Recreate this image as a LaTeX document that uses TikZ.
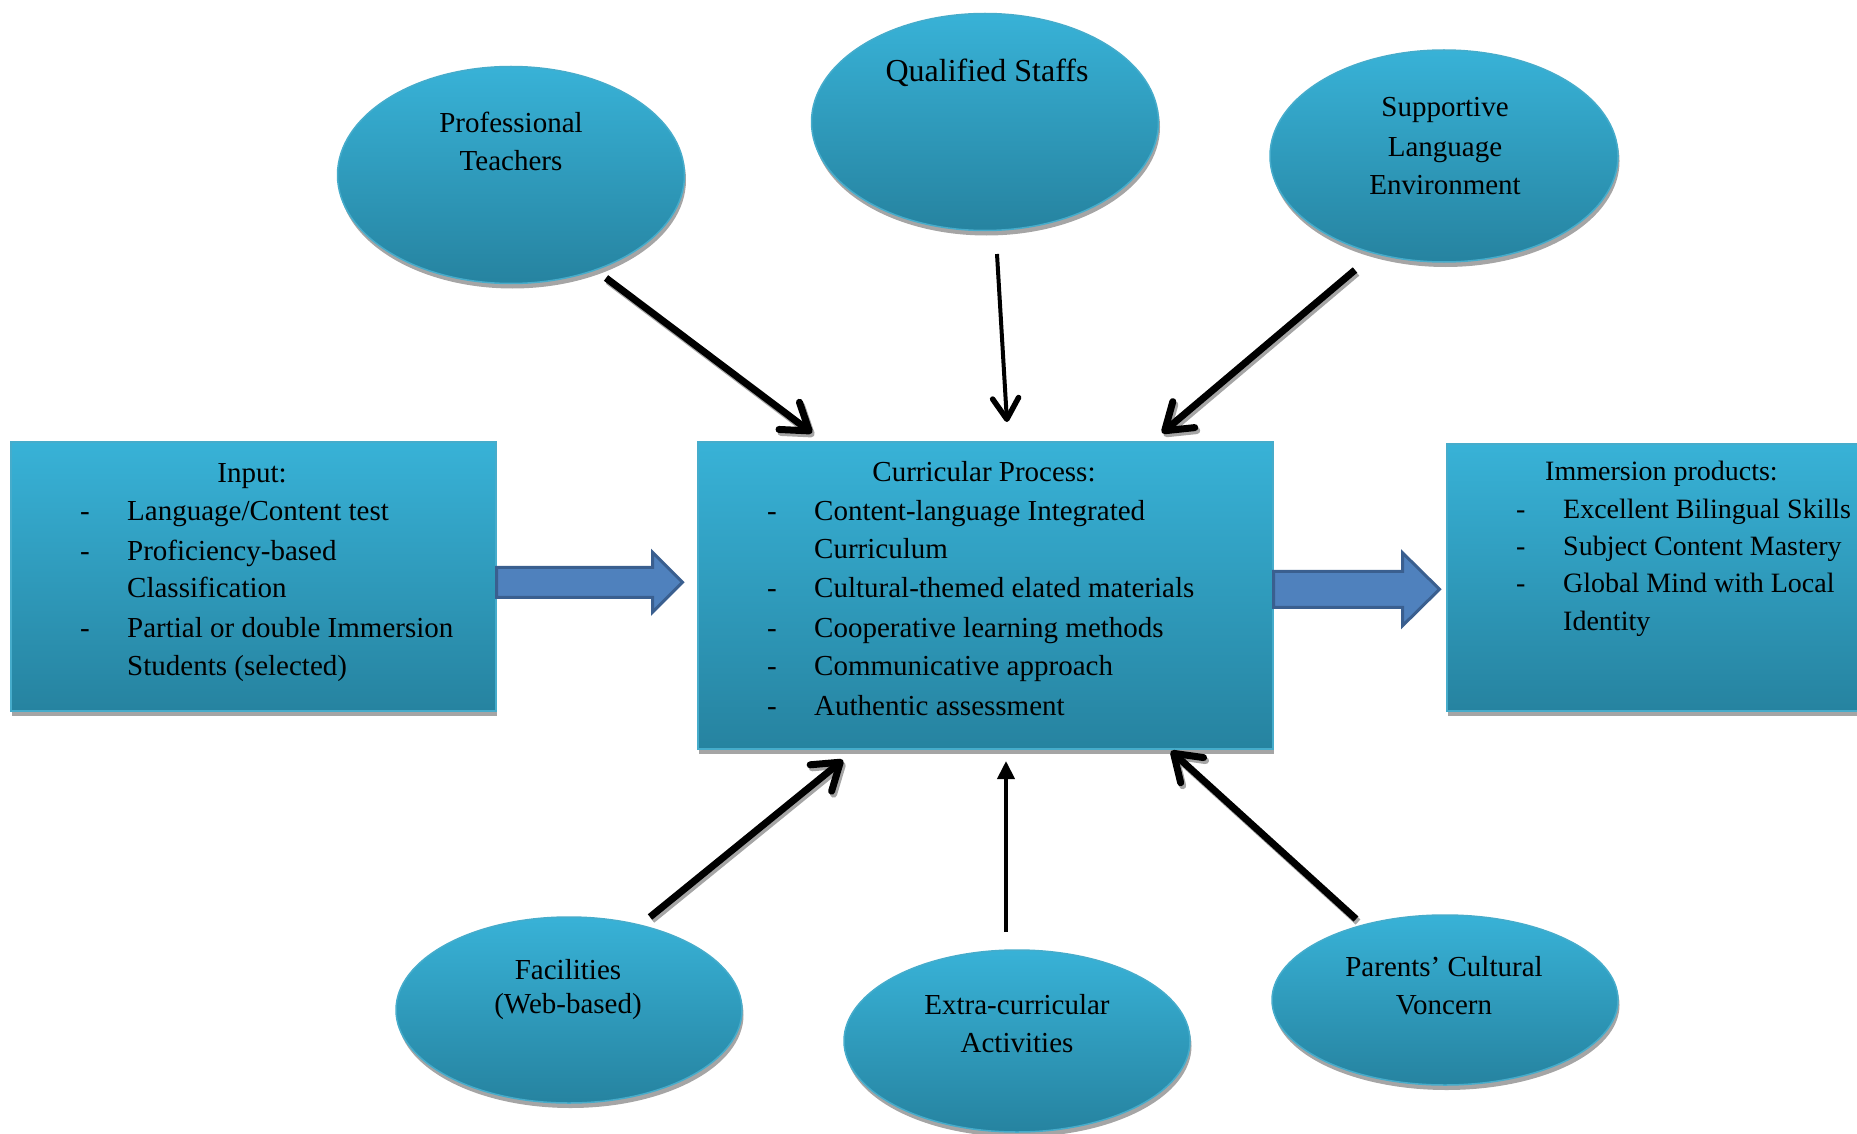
\documentclass[tikz,border=0pt]{standalone}
\usepackage{fontspec}
\setmainfont{Liberation Serif}
\usetikzlibrary{arrows.meta,shapes.geometric,shadows,calc}
\definecolor{cyantop}{HTML}{38B2D7}
\definecolor{cyanbot}{HTML}{2683A0}
\definecolor{cyanline}{HTML}{46ACCB}
\definecolor{blkfill}{HTML}{4F81BD}
\definecolor{blkline}{HTML}{3A5F8F}
\definecolor{shadowgray}{HTML}{A5A5A5}
\begin{document}
\begin{tikzpicture}[x=1pt,y=-1pt,
  panel/.style={draw=cyanline, line width=1.5pt, top color=cyantop, bottom color=cyanbot,
    drop shadow={shadow xshift=1.5pt, shadow yshift=-5pt, fill=shadowgray, opacity=1}, inner sep=0pt},
  boxpanel/.style={panel, rectangle, anchor=north west},
  oval/.style={panel, ellipse},
  txt/.style={font=\fontsize{29pt}{39pt}\selectfont, inner sep=0pt, text=black},
  smalltxt/.style={font=\fontsize{28pt}{37pt}\selectfont, inner sep=0pt, text=black},
  bigtxt/.style={font=\fontsize{32pt}{40pt}\selectfont, inner sep=0pt, text=black},
  thickarr/.style={line width=7pt, -{Straight Barb[length=25pt, width=34pt, line cap=round, line join=round]}},
  thinarr/.style={line width=4pt, -{Straight Barb[length=21pt, width=26pt, line width=5.5pt, line cap=round, line join=round]}},
  triarr/.style={line width=4pt, -{Triangle[length=18pt, width=17pt]}},
  arrshade/.style={draw=shadowgray, transform canvas={shift={(2pt,-3pt)}}},
  blockarr/.style={fill=blkfill, draw=blkline, line width=3pt, line join=miter}
]
\useasboundingbox (0,0) rectangle (1857,1134);

% boxes
\node[boxpanel, minimum width=485pt, minimum height=269pt] (inp) at (10,441) {};
\node[boxpanel, minimum width=575pt, minimum height=307pt] (proc) at (697,441) {};
\node[boxpanel, minimum width=450pt, minimum height=267pt] (imm) at (1446,443) {};

% ellipses
\node[oval, minimum width=347pt, minimum height=217pt] (pt) at (511,175) {};
\node[oval, minimum width=347pt, minimum height=217pt] (qs) at (985,122) {};
\node[oval, minimum width=348pt, minimum height=212pt] (sle) at (1444,156) {};
\node[oval, minimum width=346pt, minimum height=186pt] (fac) at (569,1010) {};
\node[oval, minimum width=346pt, minimum height=182pt] (eca) at (1017,1041) {};
\node[oval, minimum width=346pt, minimum height=170pt] (pcv) at (1445,1000) {};

% block arrows
\draw[blockarr] ($(inp.east)+(0,-9)$) -- ++(156,0) -- ++(0,-15) -- ++(30,30) -- ++(-30,30)
  -- ++(0,-15) -- ++(-156,0) -- cycle;
\draw[blockarr] ($(proc.east)+(0,-24)$) -- ++(129,0) -- ++(0,-18.5) -- ++(37,36.5) -- ++(-37,36.5)
  -- ++(0,-18.5) -- ++(-129,0) -- cycle;

% arrow end points
\coordinate (a1s) at (606,278);  \coordinate (a1e) at (812,433);
\coordinate (a2s) at (997,254);  \coordinate (a2e) at (1007,422);
\coordinate (a3s) at (1355,270); \coordinate (a3e) at (1162,433);
\coordinate (a4s) at (650,917);  \coordinate (a4e) at (843,760);
\coordinate (a5s) at (1006,932); \coordinate (a5e) at (1006,761);
\coordinate (a6s) at (1356,919); \coordinate (a6e) at (1171,751);

% arrow shadows
\draw[thickarr, arrshade] (a1s) -- (a1e);
\draw[thickarr, arrshade] (a3s) -- (a3e);
\draw[thickarr, arrshade] (a4s) -- (a4e);
\draw[thickarr, arrshade] (a6s) -- (a6e);
% arrows
\draw[thickarr] (a1s) -- (a1e);
\draw[thinarr] (a2s) -- (a2e);
\draw[thickarr] (a3s) -- (a3e);
\draw[thickarr] (a4s) -- (a4e);
\draw[triarr] (a5s) -- (a5e);
\draw[thickarr] (a6s) -- (a6e);

% input box text
\node[txt, anchor=base] (inp0) at (252,482) {Input:};
\node[txt, anchor=base west] (inp1) at (80,520) {\makebox[47pt][l]{-}Language/Content test};
\node[txt, anchor=base west] (inp2) at (80,560) {\makebox[47pt][l]{-}Proficiency-based};
\node[txt, anchor=base west] (inp3) at (127,597) {Classification};
\node[txt, anchor=base west] (inp4) at (80,637) {\makebox[47pt][l]{-}Partial or double Immersion};
\node[txt, anchor=base west] (inp5) at (127,675) {Students (selected)};

% process box text
\node[txt, anchor=base] (proc0) at (984,481) {Curricular Process:};
\node[txt, anchor=base west] (proc1) at (767,520) {\makebox[47pt][l]{-}Content-language Integrated};
\node[txt, anchor=base west] (proc2) at (814,558) {Curriculum};
\node[txt, anchor=base west] (proc3) at (767,597) {\makebox[47pt][l]{-}Cultural-themed elated materials};
\node[txt, anchor=base west] (proc4) at (767,637) {\makebox[47pt][l]{-}Cooperative learning methods};
\node[txt, anchor=base west] (proc5) at (767,675) {\makebox[47pt][l]{-}Communicative approach};
\node[txt, anchor=base west] (proc6) at (767,715) {\makebox[47pt][l]{-}Authentic assessment};

% immersion box text
\node[smalltxt, anchor=base west] (imm0) at (1545,480) {Immersion products:};
\node[smalltxt, anchor=base west] (imm1) at (1516,518) {\makebox[47pt][l]{-}Excellent Bilingual Skills};
\node[smalltxt, anchor=base west] (imm2) at (1516,555) {\makebox[47pt][l]{-}Subject Content Mastery};
\node[smalltxt, anchor=base west] (imm3) at (1516,592) {\makebox[47pt][l]{-}Global Mind with Local};
\node[smalltxt, anchor=base west] (imm4) at (1563,630) {Identity};

% ellipse texts
\node[txt, anchor=base] (ptt1) at (511,133) {Professional};
\node[txt, anchor=base] (ptt2) at (511,171) {Teachers};
\node[bigtxt, anchor=base] (qst) at (987,82) {Qualified Staffs};
\node[txt, anchor=base] (slet1) at (1445,117) {Supportive};
\node[txt, anchor=base] (slet2) at (1445,157) {Language};
\node[txt, anchor=base] (slet3) at (1445,195) {Environment};
\node[txt, anchor=base] (fact1) at (568,979) {Facilities};
\node[txt, anchor=base] (fact2) at (568,1013) {(Web-based)};
\node[txt, anchor=base] (ecat1) at (1017,1014) {Extra-curricular};
\node[txt, anchor=base] (ecat2) at (1017,1052) {Activities};
\node[txt, anchor=base] (pcvt1) at (1444,976) {Parents’ Cultural};
\node[txt, anchor=base] (pcvt2) at (1444,1014) {Voncern};
\end{tikzpicture}
\end{document}
